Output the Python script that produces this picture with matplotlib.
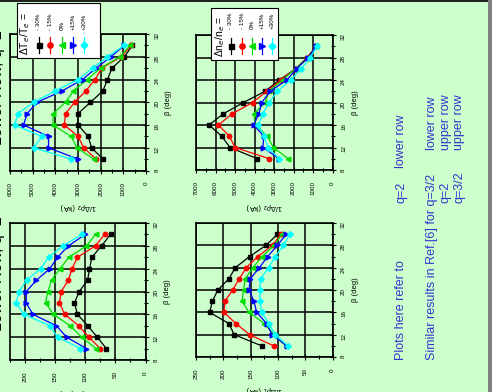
import numpy as np
import matplotlib.pyplot as plt
from matplotlib.patches import Rectangle
from matplotlib.lines import Line2D
from matplotlib.ticker import MultipleLocator

plt.rcParams['font.family'] = ['Liberation Sans', 'DejaVu Sans']

# data (the slide is shown turned on its side: beta runs up, 1/drho runs right-to-left)
beta = [10, 12, 14, 16, 18, 20, 22, 24, 26, 28, 30]
labels = ['- 30%', '- 15%', '0%', '+15%', '+30%']

# lower row, q=2, varying Te  -> 1/drho_2
te_rho2 = [
    [1900, 2400, 2550, 3000, 3000, 2450, 1900, 1700, 1500, 950, 600],
    [2200, 2750, 3000, 3600, 3550, 3150, 2650, 2250, 1950, 1100, 650],
    [2300, 3050, 3300, 4100, 4100, 3550, 3200, 2600, 2000, 1150, 700],
    [3000, 4300, 4300, 5400, 5250, 4800, 3700, 2800, 2200, 1550, 950],
    [3300, 4950, 4600, 5800, 5650, 4950, 4000, 3000, 2350, 1700, 950],
]
# lower row, q=2, varying Te  -> 1/drho_1
te_rho1 = [
    [65, 80, 96, 113, 118, 110, 96, 93, 89, 73, 58],
    [75, 94, 111, 134, 143, 140, 128, 122, 113, 83, 68],
    [82, 106, 125, 153, 166, 162, 156, 142, 127, 98, 83],
    [98, 131, 148, 187, 198, 198, 181, 159, 146, 128, 100],
    [108, 146, 159, 202, 215, 210, 197, 174, 161, 137, 106],
]
# varying ne -> 1/drho_2
ne_rho2 = [
    [3860, 5260, 5680, 6330, 5600, 4570, 3460, 2730, 1900, 1300, 850],
    [3240, 5000, 5290, 5850, 5150, 4100, 3380, 2660, 1900, 1300, 850],
    [2270, 3040, 3340, 3980, 4030, 3450, 3280, 2560, 1900, 1250, 850],
    [2730, 3580, 3520, 4050, 3780, 3630, 3200, 2350, 1850, 1250, 850],
    [2750, 3300, 3520, 3800, 3580, 3250, 2830, 2150, 1600, 1150, 800],
]
# varying ne -> 1/drho_1
ne_rho1 = [
    [130, 180, 190, 225, 220, 210, 190, 178, 152, 122, 101],
    [108, 152, 177, 199, 197, 183, 171, 158, 137, 110, 95],
    [86, 107, 125, 153, 166, 163, 160, 146, 129, 107, 93],
    [84, 111, 121, 139, 144, 153, 151, 134, 119, 101, 85],
    [82, 105, 117, 130, 133, 133, 132, 117, 105, 90, 78],
]

colors = ['black', 'red', '#00dd00', 'blue', 'cyan']
markers = ['s', 'o', '<', '>', 'D']
sizes = [3.0, 3.2, 3.4, 3.4, 2.9]
bg = '#ccffcc'
txt_blue = '#3535cc'

W, H = 492, 392
fig = plt.figure(figsize=(W / 100, H / 100), dpi=100, facecolor=bg)


def fx(x):
    return x / W


def fy(y):
    return 1 - y / H


def panel(l, t, r, b, series, xmax, xstep, xlabel):
    ax = fig.add_axes([fx(l), fy(b), fx(r) - fx(l), fy(t) - fy(b)])
    ax.set_facecolor('none')
    for vals, c, m, s in zip(series, colors, markers, sizes):
        ax.plot(vals, beta, color=c, marker=m, ms=s, lw=0.9, mec=c, mfc=c)
    ax.set_xlim(xmax, 0)
    ax.set_ylim(8, 32)
    ax.xaxis.set_major_locator(MultipleLocator(xstep))
    ax.xaxis.set_minor_locator(MultipleLocator(xstep / 2))
    ax.yaxis.set_major_locator(MultipleLocator(4))
    ax.yaxis.set_minor_locator(MultipleLocator(2))
    ax.yaxis.tick_right()
    ax.yaxis.set_label_position('right')
    ax.grid(True, which='major', color='black', lw=1.1)
    ax.tick_params(which='both', direction='inout', labelsize=4.5, width=0.8)
    ax.tick_params(which='major', length=4)
    ax.tick_params(which='minor', length=2.5)
    ax.tick_params(axis='x', labelrotation=90, pad=6)
    ax.tick_params(axis='y', labelrotation=90, pad=4)
    for sp in ax.spines.values():
        sp.set_linewidth(1.2)
    ax.set_xlabel(xlabel, rotation=180, fontsize=5.5, labelpad=4)
    ax.set_ylabel('β (deg)', rotation=90, fontsize=5.5, labelpad=4)
    return ax


def legend(title, l, t, r, b, title_x, xs, my, ly):
    fig.add_artist(Rectangle((fx(l), fy(b)), fx(r) - fx(l), fy(t) - fy(b),
                             transform=fig.transFigure, facecolor='white',
                             edgecolor='black', lw=0.8))
    fig.text(fx(title_x), fy(b - 3), title, rotation=90, ha='center',
             va='bottom', fontsize=7.5)
    for x, c, m, s, lab in zip(xs, colors, markers, sizes, labels):
        fig.add_artist(Line2D([fx(x), fx(x)], [fy(my + 8), fy(my - 8)], color=c,
                              lw=0.9, transform=fig.transFigure))
        fig.add_artist(Line2D([fx(x)], [fy(my)], marker=m, ms=s + 0.6, color=c,
                              transform=fig.transFigure))
        fig.text(fx(x), fy(ly), lab, rotation=90, ha='center', va='bottom',
                 fontsize=4.5)


panel(10, 34, 146, 170.5, te_rho2, 6000, 1000, '1/Δρ$_2$ (kA)')
panel(10, 223, 145.5, 360, te_rho1, 225, 50, '1/Δρ$_1$ (kA)')
panel(196, 35, 332.7, 170, ne_rho2, 7000, 1000, '1/Δρ$_2$ (kA)')
panel(196, 223, 332.7, 357, ne_rho1, 250, 50, '1/Δρ$_1$ (kA)')

legend('ΔT$_e$/T$_e$ =', 17, 3, 100, 58, 25, [39, 50, 62, 73, 84], 45, 30)
legend('Δn$_e$/n$_e$ =', 211, 8, 278, 60, 220, [231, 242, 252, 262, 272], 46, 29)

# panel titles, half cut by the slide edge
fig.text(fx(-2.5), fy(88), 'Lower Row, q=2', rotation=90, ha='center',
         va='center', fontsize=11.5)
fig.text(fx(-2.5), fy(274), 'Lower Row, q=2', rotation=90, ha='center',
         va='center', fontsize=11.5)

# notes on the right
notes = [
    (401, 360, 'Plots here refer to'),
    (401, 203, 'q=2'),
    (401, 168, 'lower row'),
    (432, 360, 'Similar results in Ref.[6] for q=3/2'),
    (432, 150, 'lower row'),
    (446, 203, 'q=2'),
    (446, 150, 'upper row'),
    (459, 203, 'q=3/2'),
    (459, 150, 'upper row'),
]
for x, y, s in notes:
    fig.text(fx(x), fy(y), s, rotation=90, ha='center', va='bottom',
             fontsize=9, color=txt_blue)

# slide border
fig.add_artist(Rectangle((0, fy(1.5)), 1, fy(0) - fy(1.5), transform=fig.transFigure,
                         facecolor='#222222', lw=0))
fig.add_artist(Rectangle((fx(488), 0), fx(492) - fx(488), 1, transform=fig.transFigure,
                         facecolor='#808080', lw=0))

fig.savefig('out.png', dpi=100, facecolor=bg)
